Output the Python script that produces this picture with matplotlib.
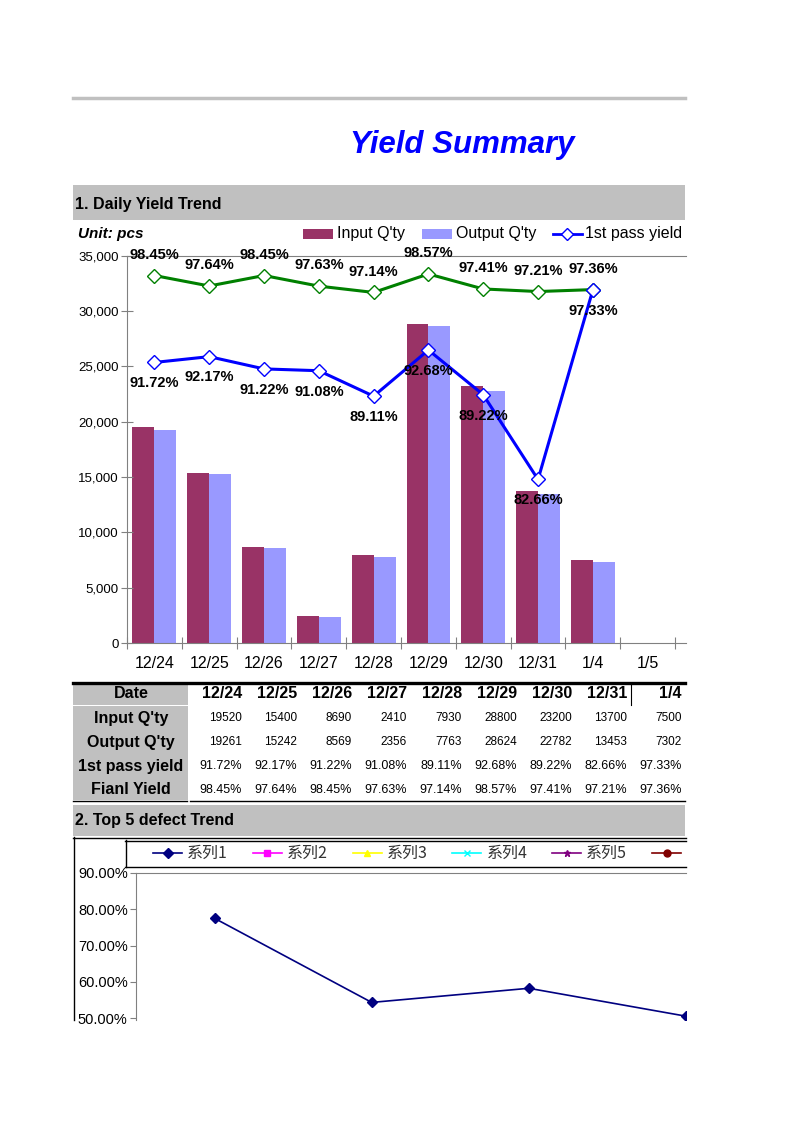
import os

os.environ.setdefault("MPLBACKEND", "Agg")

import numpy as np
import matplotlib.pyplot as plt
from matplotlib.lines import Line2D
from matplotlib.patches import Rectangle
from matplotlib.ticker import FuncFormatter
from matplotlib.transforms import Bbox, TransformedBbox

plt.rcParams["font.family"] = ["Liberation Sans", "DejaVu Sans"]

# ---- data ----
dates = ["12/24", "12/25", "12/26", "12/27", "12/28", "12/29", "12/30", "12/31", "1/4", "1/5"]
table_dates = dates[:9]
input_qty = [19520, 15400, 8690, 2410, 7930, 28800, 23200, 13700, 7500]
output_qty = [19261, 15242, 8569, 2356, 7763, 28624, 22782, 13453, 7302]
first_pass = [91.72, 92.17, 91.22, 91.08, 89.11, 92.68, 89.22, 82.66, 97.33]
final_yield = [98.45, 97.64, 98.45, 97.63, 97.14, 98.57, 97.41, 97.21, 97.36]

defect_series = ["系列1", "系列2", "系列3", "系列4", "系列5", "系列6"]
defect_colors = ["#000080", "#FF00FF", "#FFFF00", "#00FFFF", "#800080", "#800000"]
defect_markers = ["D", "s", "^", "x", "*", "o"]
defect_s1 = [77.5, 54.3, 58.2, 50.5]

W, H = 793, 1122
GRAY = "#C0C0C0"
AXGRAY = "#808080"
INPUT_C = "#993366"
OUTPUT_C = "#9999FF"


def fx(x):
    return x / W


def fy(y):
    return 1 - y / H


def box(x0, y0, x1, y1):
    return [x0 / W, 1 - y1 / H, (x1 - x0) / W, (y1 - y0) / H]


def hline(fig, x0, x1, y, color="black", lw=1.0):
    fig.add_artist(Line2D([fx(x0), fx(x1)], [fy(y), fy(y)], color=color, lw=lw))


def vline(fig, x, y0, y1, color="black", lw=1.0):
    fig.add_artist(Line2D([fx(x), fx(x)], [fy(y0), fy(y1)], color=color, lw=lw))


def rect(fig, x0, y0, x1, y1, color):
    fig.add_artist(Rectangle((fx(x0), fy(y1)), fx(x1) - fx(x0), fy(y0) - fy(y1),
                             facecolor=color, edgecolor="none"))


def main():
    fig = plt.figure(figsize=(W / 100, H / 100), dpi=100)

    # page header
    hline(fig, 73, 685, 98, color=GRAY, lw=2.5)
    fig.text(fx(462), fy(145), "Yield Summary", color="#0000FF", fontsize=22.5,
             fontweight="bold", style="italic", ha="center", va="center")

    # section 1 band
    rect(fig, 73, 185, 685, 220, GRAY)
    fig.text(fx(75), fy(205), "1. Daily Yield Trend", fontsize=11.5, fontweight="bold",
             ha="left", va="center")
    fig.text(fx(78), fy(234), "Unit: pcs", fontsize=11, fontweight="bold", style="italic",
             ha="left", va="center")

    # legend for chart 1
    rect(fig, 303, 229, 333, 239, INPUT_C)
    fig.text(fx(337), fy(234), "Input Q'ty", fontsize=11.5, ha="left", va="center")
    rect(fig, 422, 229, 452, 239, OUTPUT_C)
    fig.text(fx(456), fy(234), "Output Q'ty", fontsize=11.5, ha="left", va="center")
    fig.add_artist(Line2D([fx(553), fx(582)], [fy(234), fy(234)], color="#0000FF", lw=2))
    fig.add_artist(Line2D([fx(567)], [fy(234)], marker="D", markersize=6.5,
                          markerfacecolor="white", markeredgecolor="#0000FF", lw=0))
    fig.text(fx(585), fy(234), "1st pass yield", fontsize=11.5, ha="left", va="center")

    # chart 1
    ax = fig.add_axes(box(127, 255.5, 686, 643))
    x = np.arange(len(table_dates))
    ax.bar(x - 0.2, input_qty, width=0.4, color=INPUT_C, edgecolor="none")
    ax.bar(x + 0.2, output_qty, width=0.4, color=OUTPUT_C, edgecolor="none")
    ax.set_xlim(-0.5, 9.7)
    ax.set_ylim(0, 35000)
    ax.set_yticks(np.arange(0, 35001, 5000))
    ax.yaxis.set_major_formatter(FuncFormatter(lambda v, p: f"{int(v):,}"))
    ax.set_xticks(np.arange(-0.5, 10, 1))
    ax.set_xticklabels([])
    ax.set_xticks(np.arange(len(dates)), minor=True)
    ax.set_xticklabels(dates, minor=True, fontsize=11.5)
    ax.tick_params(axis="x", which="major", direction="inout", length=8, color=AXGRAY)
    ax.tick_params(axis="x", which="minor", length=0, pad=9)
    ax.tick_params(axis="y", direction="inout", length=8, color=AXGRAY, labelsize=9.5, pad=2)
    for side in ["left", "bottom", "top"]:
        ax.spines[side].set_color(AXGRAY)
    ax.spines["right"].set_visible(False)

    ax2 = ax.twinx()
    ax2.set_ylim(70, 100)
    ax2.set_xlim(-0.5, 9.7)
    ax2.axis("off")
    ax2.plot(x, final_yield, color="#008000", lw=2.2, marker="D", markersize=7,
             markerfacecolor="white", markeredgecolor="#008000", clip_on=False)
    ax2.plot(x, first_pass, color="#0000FF", lw=2.2, marker="D", markersize=7,
             markerfacecolor="white", markeredgecolor="#0000FF", clip_on=False)
    for i, v in enumerate(final_yield):
        ax2.annotate(f"{v:.2f}%", (i, v), xytext=(0, 15), textcoords="offset points",
                     ha="center", va="center", fontsize=10.5, fontweight="bold")
    for i, v in enumerate(first_pass):
        ax2.annotate(f"{v:.2f}%", (i, v), xytext=(0, -15), textcoords="offset points",
                     ha="center", va="center", fontsize=10.5, fontweight="bold")

    # table
    hline(fig, 73, 685, 682.5, lw=2.4)
    rect(fig, 73, 684, 188, 705, GRAY)
    rect(fig, 73, 706, 188, 800, GRAY)
    row_y = [694, 718, 742, 766, 790]
    row_names = ["Date", "Input Q'ty", "Output Q'ty", "1st pass yield", "Fianl Yield"]
    for name, yy in zip(row_names, row_y):
        fig.text(fx(131), fy(yy), name, fontsize=11.5, fontweight="bold",
                 ha="center", va="center")
    rows = [
        (table_dates, dict(fontsize=11.5, fontweight="bold")),
        ([str(v) for v in input_qty], dict(fontsize=8.5)),
        ([str(v) for v in output_qty], dict(fontsize=8.5)),
        ([f"{v:.2f}%" for v in first_pass], dict(fontsize=9)),
        ([f"{v:.2f}%" for v in final_yield], dict(fontsize=9)),
    ]
    for (vals, kw), yy in zip(rows, row_y):
        for i, s in enumerate(vals):
            fig.text(fx(242 + 55 * i), fy(yy), s, ha="right", va="center", **kw)
    vline(fig, 631, 684, 705, lw=0.8)
    hline(fig, 73, 187, 800.5, lw=1)
    hline(fig, 190, 685, 800.5, lw=1)

    # section 2 band
    rect(fig, 73, 805, 685, 836, GRAY)
    fig.text(fx(75), fy(821), "2. Top 5 defect Trend", fontsize=11.5, fontweight="bold",
             ha="left", va="center")
    hline(fig, 73, 686, 837.5, lw=1)
    vline(fig, 73.5, 837, 1020, lw=1)

    # legend box for chart 2
    hline(fig, 125, 686, 840.5, lw=1)
    hline(fig, 125, 686, 866.5, lw=1)
    vline(fig, 125.5, 840, 867, lw=1)
    clip = TransformedBbox(Bbox([[0, 0], [fx(686), 1]]), fig.transFigure)
    for i, (name, c, m) in enumerate(zip(defect_series, defect_colors, defect_markers)):
        x0 = 153 + 99.8 * i
        ln = Line2D([fx(x0), fx(x0 + 29)], [fy(853), fy(853)], color=c, lw=1.2)
        mk = Line2D([fx(x0 + 14.5)], [fy(853)], marker=m, color=c, markersize=5, lw=0)
        fig.add_artist(ln)
        fig.add_artist(mk)
        t = fig.text(fx(x0 + 34), fy(853), name, fontsize=11.5, ha="left", va="center",
                     color="#333333", family=["Noto Sans CJK SC", "DejaVu Sans"])
        t.set_clip_box(clip)
        t.set_clip_on(True)

    # chart 2
    bx = fig.add_axes(box(136, 873, 686, 1020))
    bx.plot(np.arange(len(defect_s1)) + 0.5, defect_s1, color=defect_colors[0], lw=1.2,
            marker="D", markersize=5)
    bx.set_xlim(0, 3.5)
    bx.set_ylim(49.45, 90)
    bx.set_yticks(np.arange(50, 91, 10))
    bx.yaxis.set_major_formatter(FuncFormatter(lambda v, p: f"{v:.2f}%"))
    bx.set_xticks([])
    bx.tick_params(axis="y", direction="out", length=4, color=AXGRAY, labelsize=10.5, pad=2)
    bx.spines["left"].set_color(AXGRAY)
    bx.spines["top"].set_color(AXGRAY)
    bx.spines["right"].set_visible(False)
    bx.spines["bottom"].set_visible(False)

    fig.savefig("out.png", dpi=100)
    plt.close(fig)


if __name__ == "__main__":
    main()
